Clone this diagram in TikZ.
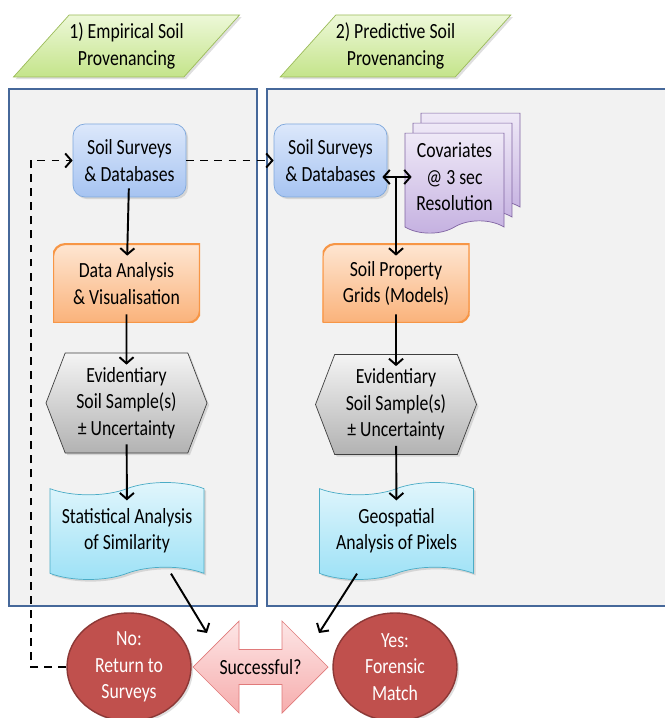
\documentclass[tikz,border=0pt]{standalone}
\usepackage{fontspec}
\setmainfont{Carlito}[FakeStretch=0.82]
\usetikzlibrary{calc}
\usetikzlibrary{positioning}
\usetikzlibrary{shapes.geometric}
\usetikzlibrary{shapes.symbols}
\usetikzlibrary{shapes.arrows}
\usetikzlibrary{shadows}
\usetikzlibrary{arrows.meta}
\definecolor{greentop}{HTML}{EDF8D8}
\definecolor{greenbot}{HTML}{C4E48A}
\definecolor{greenline}{HTML}{9BBB59}
\definecolor{panelfill}{HTML}{F2F2F2}
\definecolor{panelline}{HTML}{46689A}
\definecolor{bluetop}{HTML}{DCE8FB}
\definecolor{bluebot}{HTML}{A6C3F1}
\definecolor{blueline}{HTML}{7FA8DC}
\definecolor{orangetop}{HTML}{FEE6D2}
\definecolor{orangebot}{HTML}{FAB27A}
\definecolor{orangeline}{HTML}{F79646}
\definecolor{greytop}{HTML}{F4F4F4}
\definecolor{greybot}{HTML}{B2B2B2}
\definecolor{greyline}{HTML}{3F3F3F}
\definecolor{cyantop}{HTML}{E2F6FC}
\definecolor{cyanbot}{HTML}{9CE1F6}
\definecolor{cyanline}{HTML}{4BACC6}
\definecolor{purpletop}{HTML}{EFE9F7}
\definecolor{purplebot}{HTML}{C4B0E0}
\definecolor{purpleline}{HTML}{8064A2}
\definecolor{pinktop}{HTML}{FDE6E6}
\definecolor{pinkbot}{HTML}{F6ADAD}
\definecolor{pinkline}{HTML}{E07A7A}
\definecolor{redfill}{HTML}{C0504D}
\definecolor{redline}{HTML}{8C3836}
\tikzstyle{softshadow} = [drop shadow={shadow xshift=1.2pt, shadow yshift=-1.2pt, opacity=0.25}]
\tikzstyle{titlenode} = [draw=greenline, top color=greentop, bottom color=greenbot, trapezium, trapezium left angle=46, trapezium right angle=134, trapezium stretches body=true, inner xsep=0pt, minimum width=4.52cm, minimum height=1.24cm, align=center, softshadow]
\tikzstyle{panel} = [draw=panelline, fill=panelfill, line width=1.1pt]
\tikzstyle{surveynode} = [draw=blueline, top color=bluetop, bottom color=bluebot, rounded corners=0.24cm, minimum width=2.26cm, minimum height=1.46cm, align=center, softshadow]
\tikzstyle{covnode} = [draw=purpleline, top color=purpletop, bottom color=purplebot, tape, tape bend top=none, tape bend height=7pt, minimum width=1.98cm, minimum height=2cm, align=center]
\tikzstyle{modelnode} = [minimum width=2.94cm, minimum height=1.58cm, align=center, path picture={
    \shade[top color=orangetop, bottom color=orangebot, draw=orangeline, line width=1.2pt]
    (path picture bounding box.south west) -- ([yshift=-0.25cm]path picture bounding box.north west)
    arc[start angle=180, end angle=90, radius=0.25cm] -- (path picture bounding box.north east)
    -- ([yshift=0.25cm]path picture bounding box.south east)
    arc[start angle=0, end angle=-90, radius=0.25cm] -- cycle;}]
\tikzstyle{samplenode} = [draw=greyline, top color=greytop, bottom color=greybot, signal, signal to=west and east, signal pointer angle=138, minimum width=3.22cm, minimum height=2cm, align=center, softshadow]
\tikzstyle{docnode} = [draw=cyanline, top color=cyantop, bottom color=cyanbot, tape, tape bend height=7pt, minimum width=3.08cm, minimum height=1.94cm, align=center, softshadow]
\tikzstyle{decision} = [draw=pinkline, top color=pinktop, bottom color=pinkbot, double arrow, double arrow head extend=0.45cm, minimum height=2.7cm, minimum width=1.84cm, align=center]
\tikzstyle{outcome} = [draw=redline, fill=redfill, ellipse, text=white, minimum width=2.48cm, minimum height=2.16cm, inner sep=0pt, align=center, line width=0.8pt, softshadow]
\tikzstyle{flow} = [->, line width=1.1pt]
\tikzstyle{flowin} = [->, line width=1.1pt, shorten <=-0.18cm, shorten >=-0.24cm]
\tikzstyle{loopback} = [->, line width=1.1pt, dash pattern=on 4.5pt off 3.5pt]

\begin{document}
\begin{tikzpicture}[>={Straight Barb[length=3.5pt,width=8pt]}, every node/.style={font=\fontsize{12.3}{15}\selectfont}]
    \useasboundingbox (0,0) rectangle (13.28,-14.36);

    \draw[panel] (0.18,-1.78) rectangle (5.14,-12.12);
    \draw[panel] (5.34,-1.78) rectangle (13.45,-12.12);

    \node[titlenode] (emp_title) at (2.53,-0.92) {1) Empirical Soil\\Provenancing};
    \node[titlenode] (pre_title) at ($(emp_title)+(5.38,0)$) {2) Predictive Soil\\Provenancing};

    \node[surveynode] (emp_survey) at (2.59,-3.21) {Soil Surveys\\\& Databases};
    \node[surveynode] (pre_survey) at ($(emp_survey)+(4.02,0)$) {Soil Surveys\\\& Databases};
    \node[covnode] (cov_back) at ($(pre_survey)+(2.8,0.07)$) {};
    \node[covnode] (cov_mid) at ($(cov_back)+(-0.16,-0.2)$) {};
    \node[covnode] (cov) at ($(cov_mid)+(-0.16,-0.2)$) {Covariates\\@ 3 sec\\Resolution};

    \node[modelnode] (emp_data) at ($(emp_survey)+(-0.06,-2.46)$) {Data Analysis\\\& Visualisation};
    \node[modelnode] (pre_grids) at ($(emp_data)+(5.39,0)$) {Soil Property\\Grids (Models)};

    \node[samplenode] (emp_sample) at ($(emp_data)+(0,-2.39)$) {Evidentiary\\Soil Sample(s)\\± Uncertainty};
    \node[samplenode] (pre_sample) at ($(pre_grids)+(0,-2.42)$) {Evidentiary\\Soil Sample(s)\\± Uncertainty};

    \node[docnode] (emp_stats) at ($(emp_sample)+(0.01,-2.56)$) {Statistical Analysis\\of Similarity};
    \node[docnode] (pre_geo) at ($(pre_sample)+(0.01,-2.53)$) {Geospatial\\Analysis of Pixels};

    \node[decision] (success) at (5.21,-13.34) {Successful?};
    \node[outcome] (no_match) at ($(success)+(-2.63,0)$) {No:\\Return to\\Surveys};
    \node[outcome] (yes_match) at ($(success)+(2.69,0)$) {Yes:\\Forensic\\Match};

    \draw[flowin] (emp_survey) -- (emp_data);
    \draw[flowin] (emp_data) -- (emp_sample);
    \draw[flowin] (emp_sample) -- (emp_stats);
    \draw[flow, <->, shorten <=-0.1cm, shorten >=-0.14cm] (pre_survey.east |- cov.west) -- (cov.west);
    \draw[flowin, shorten <=0cm] (pre_grids.north |- cov.west) -- (pre_grids);
    \draw[flowin] (pre_grids) -- (pre_sample);
    \draw[flowin] (pre_sample) -- (pre_geo);
    \draw[flow] ([xshift=0.88cm]emp_stats.south) -- ($(success)+(-1.07,0.68)$);
    \draw[flow] ([xshift=-0.79cm]pre_geo.south) -- ($(success)+(1.17,0.68)$);

    \coordinate (ret) at (0.62,0 |- emp_survey.west);
    \draw[loopback] (no_match.west) -| (ret) -- (emp_survey.west);
    \draw[loopback] (emp_survey.east) -- (pre_survey.west);
\end{tikzpicture}
\end{document}
